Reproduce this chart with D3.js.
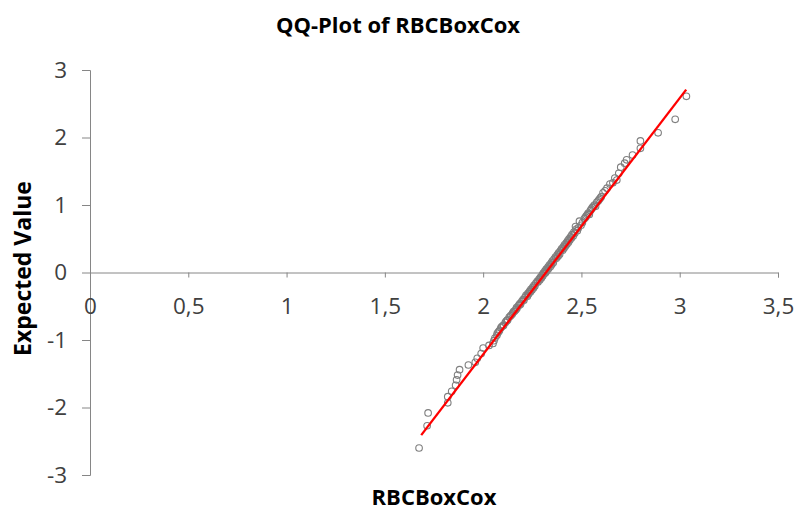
<!DOCTYPE html>
<html>
<head>
<meta charset="utf-8">
<script src="https://cdn.jsdelivr.net/npm/d3@7"></script>
<style>
  body { margin: 0; background: #fff; }
  text { font-family: "Open Sans", "Liberation Sans", sans-serif; }
</style>
</head>
<body>
<script>
// observed RBCBoxCox values (x) and their expected normal quantiles (y)
var rbcValues = [1.674,1.715,1.72,1.82,1.82,1.84,1.86,1.865,1.87,1.88,1.925,1.96,1.97,1.99,2.0,2.03,2.05,2.055,2.06,2.07,
  2.072,2.083,2.090,2.104,2.113,2.125,2.133,2.147,2.155,2.166,2.170,2.180,2.187,2.196,2.203,2.212,2.218,2.228,2.236,2.243,
  2.252,2.259,2.268,2.275,2.284,2.291,2.300,2.306,2.314,2.321,2.330,2.337,2.346,2.352,2.361,2.368,2.377,2.384,2.393,2.399,
  2.408,2.414,2.423,2.430,2.437,2.445,2.452,2.462,2.473,2.47,2.49,2.515,2.525,2.535,2.546,2.555,2.566,2.578,2.590,2.600,
  2.61,2.63,2.645,2.68,2.69,2.70,2.73,2.76,2.80,2.80,2.89,2.977,3.034,
  2.095,2.118,2.140,2.160,2.190,2.225,2.248,2.263,2.296,2.325,2.342,2.372,2.404,2.426,2.458,2.484,2.505,2.540,2.572,
  2.078,2.101,2.122,2.150,2.172,2.184,2.207,2.231,2.240,2.256,2.279,2.288,2.303,2.311,2.318,2.333,2.349,2.357,2.381,2.389,
  2.411,2.418,2.434,2.441,2.449,2.466,2.479,2.498,2.521,2.531,2.551,2.561,2.585,2.595,2.62,2.66,2.67,2.72];
var expectedValues = [-2.60,-2.27,-2.08,-1.93,-1.84,-1.76,-1.67,-1.59,-1.52,-1.44,-1.37,-1.33,-1.27,-1.20,-1.12,-1.08,-1.05,-1.01,-0.97,-0.93,
  -0.90,-0.86,-0.82,-0.78,-0.74,-0.70,-0.66,-0.62,-0.58,-0.55,-0.52,-0.49,-0.46,-0.43,-0.40,-0.37,-0.34,-0.31,-0.28,-0.25,
  -0.22,-0.19,-0.16,-0.13,-0.10,-0.07,-0.04,-0.01,0.02,0.05,0.08,0.11,0.14,0.17,0.20,0.23,0.26,0.29,0.32,0.35,
  0.38,0.41,0.44,0.47,0.50,0.53,0.56,0.60,0.64,0.68,0.76,0.80,0.84,0.88,0.92,0.96,1.00,1.04,1.08,1.12,
  1.18,1.25,1.31,1.37,1.47,1.56,1.67,1.74,1.84,1.95,2.07,2.27,2.61,
  -0.80,-0.72,-0.64,-0.57,-0.47,-0.35,-0.26,-0.20,-0.08,0.03,0.09,0.21,0.33,0.42,0.54,0.66,0.74,0.86,0.98,
  -0.88,-0.79,-0.71,-0.60,-0.53,-0.48,-0.41,-0.32,-0.29,-0.23,-0.14,-0.11,-0.05,-0.02,0.00,0.06,0.12,0.15,0.24,0.27,
  0.36,0.39,0.45,0.48,0.51,0.58,0.62,0.70,0.82,0.86,0.94,0.98,1.06,1.10,1.21,1.33,1.40,1.62];
// fitted reference line endpoints
var lineX = [1.685, 3.033];
var lineY = [-2.41, 2.71];

var xTicks = [0,0.5,1,1.5,2,2.5,3,3.5];
var yTicks = [-3,-2,-1,0,1,2,3];

var points = rbcValues.map(function(d,i){ return {x:d, y:expectedValues[i]}; });

var W = 799, H = 515;
var margin = {left:90, right:21, top:70, bottom:40};

var svg = d3.select("body").append("svg").attr("width", W).attr("height", H);

var x = d3.scaleLinear().domain([0,3.5]).range([margin.left, W-margin.right]);
var y = d3.scaleLinear().domain([-3,3]).range([H-margin.bottom, margin.top]);

var comma = d3.formatLocale({decimal:",", thousands:".", grouping:[3], currency:["",""]}).format("~g");

// y axis on the left
var yAxis = svg.append("g")
  .attr("transform", "translate(" + margin.left + ",0)")
  .call(d3.axisLeft(y).tickValues(yTicks).tickSize(8).tickPadding(15).tickFormat(function(d){ return String(d); }));

// x axis crossing at y = 0
var xAxis = svg.append("g")
  .attr("transform", "translate(0," + y(0) + ")")
  .call(d3.axisBottom(x).tickValues(xTicks).tickSize(5).tickSizeOuter(5).tickPadding(21).tickFormat(comma));

[yAxis, xAxis].forEach(function(g){
  g.selectAll("path, line").attr("stroke", "#868686").attr("stroke-width", 1);
  g.selectAll("text").attr("fill", "#404040").style("font-size", "22.5px");
});

// points
svg.append("g").selectAll("circle")
  .data(points)
  .enter().append("circle")
  .attr("cx", function(d){ return x(d.x); })
  .attr("cy", function(d){ return y(d.y); })
  .attr("r", 3.3)
  .attr("fill", "none")
  .attr("stroke", "#7f7f7f")
  .attr("stroke-width", 1.1);

// reference line
svg.append("line")
  .attr("x1", x(lineX[0])).attr("y1", y(lineY[0]))
  .attr("x2", x(lineX[1])).attr("y2", y(lineY[1]))
  .attr("stroke", "#ff0000")
  .attr("stroke-width", 2.3);

// titles
svg.append("text")
  .attr("x", 398).attr("y", 33)
  .attr("text-anchor", "middle")
  .style("font-size", "22px").style("font-weight", "bold")
  .text("QQ-Plot of RBCBoxCox");

svg.append("text")
  .attr("x", (margin.left + W - margin.right)/2).attr("y", 505)
  .attr("text-anchor", "middle")
  .style("font-size", "22px").style("font-weight", "bold")
  .text("RBCBoxCox");

svg.append("text")
  .attr("transform", "translate(31," + (y(0) - 4) + ") rotate(-90)")
  .attr("text-anchor", "middle")
  .style("font-size", "23px").style("font-weight", "bold")
  .text("Expected Value");
</script>
</body>
</html>
